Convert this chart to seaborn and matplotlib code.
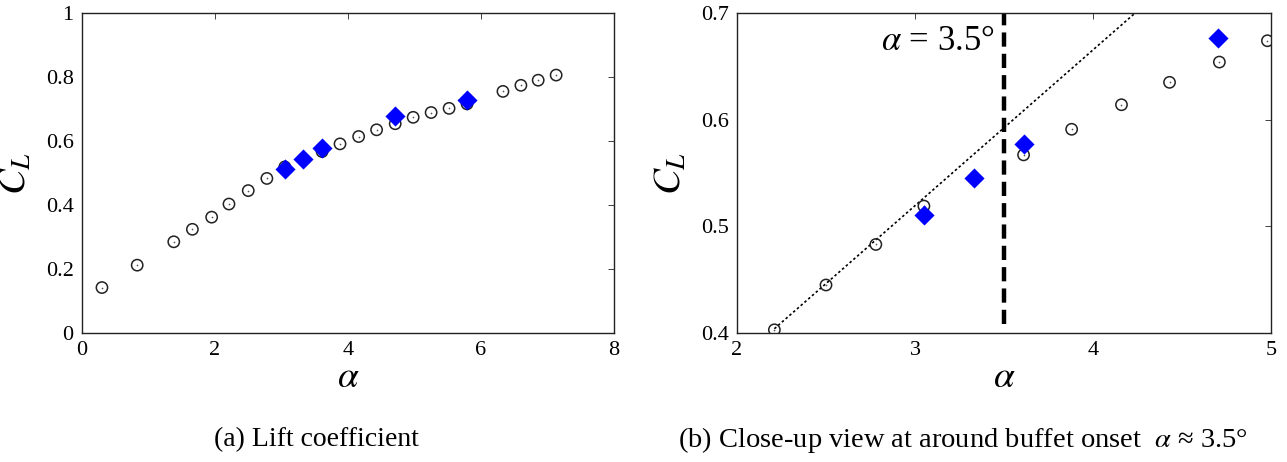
import numpy as np
import pandas as pd
import matplotlib
matplotlib.use("Agg")
import matplotlib.pyplot as plt
import seaborn as sns

# ---- data ----
alpha_exp = [0.30, 0.83, 1.38, 1.66, 1.95, 2.21, 2.50, 2.78, 3.05, 3.61, 3.88, 4.16,
             4.43, 4.71, 4.98, 5.25, 5.52, 5.79, 6.33, 6.60, 6.86, 7.13]
cl_exp = [0.142, 0.212, 0.285, 0.324, 0.362, 0.403, 0.445, 0.483, 0.519, 0.567, 0.591, 0.614,
          0.635, 0.654, 0.674, 0.689, 0.702, 0.716, 0.755, 0.774, 0.790, 0.806]
alpha_sim = [3.05, 3.33, 3.61, 4.70, 5.79]
cl_sim = [0.511, 0.545, 0.577, 0.677, 0.729]
fit_alpha = [2.21, 4.23]
fit_cl = [0.404, 0.699]
onset_alpha = 3.5
onset_span = [0.408, 0.70]

left_xticks = [0, 2, 4, 6, 8]
left_yticks = [0, 0.2, 0.4, 0.6, 0.8, 1]
left_yticklabels = ["0", "0.2", "0.4", "0.6", "0.8", "1"]
right_xticks = [2, 3, 4, 5]
right_yticks = [0.4, 0.5, 0.6, 0.7]
right_yticklabels = ["0.4", "0.5", "0.6", "0.7"]

caption_a = "(a) Lift coefficient"
caption_b = r"(b) Close-up view at around buffet onset  $\alpha$ ≈ 3.5°"
annot = r"$\alpha$ = 3.5°"

exp_df = pd.DataFrame({"alpha": alpha_exp, "CL": cl_exp})
sim_df = pd.DataFrame({"alpha": alpha_sim, "CL": cl_sim})

sns.set_theme(style="white")
plt.rcParams["font.family"] = ["Liberation Serif", "DejaVu Serif"]
plt.rcParams["mathtext.fontset"] = "stix"
plt.rcParams["text.color"] = "black"
plt.rcParams["axes.labelcolor"] = "black"

W, H = 1287, 462
fig = plt.figure(figsize=(W / 100, H / 100), dpi=100)
ax1 = fig.add_axes([82 / W, 1 - 333 / H, 532 / W, 320 / H])
ax2 = fig.add_axes([737 / W, 1 - 333 / H, 534 / W, 320 / H])


def draw(ax, df_e, df_s):
    sns.scatterplot(data=df_e, x="alpha", y="CL", ax=ax, marker="o", s=66,
                    facecolor="none", edgecolor="#222222", linewidth=1.1, legend=False, zorder=3)
    sns.scatterplot(data=df_e, x="alpha", y="CL", ax=ax, marker="o", s=1.5,
                    color="#555555", linewidth=0, legend=False, zorder=3)
    sns.scatterplot(data=df_s, x="alpha", y="CL", ax=ax, marker="D", s=105,
                    color="#0000ff", linewidth=0, legend=False, zorder=4)


draw(ax1, exp_df, sim_df)
ax1.set_xlim(0, 8)
ax1.set_ylim(0, 1)
ax1.set_xticks(left_xticks)
ax1.set_xticklabels([str(t) for t in left_xticks])
ax1.set_yticks(left_yticks)
ax1.set_yticklabels(left_yticklabels)

sub = exp_df[(exp_df.alpha >= 2) & (exp_df.alpha <= 5.05)]
subs = sim_df[(sim_df.alpha >= 2) & (sim_df.alpha <= 5.05)]
sns.lineplot(x=fit_alpha, y=fit_cl, ax=ax2, color="black", linestyle=(0, (1.5, 1.5)),
             linewidth=1.2, zorder=2)
ax2.plot([onset_alpha, onset_alpha], onset_span, color="black", linewidth=3.2,
         linestyle=(0, (3.2, 1.6)), zorder=2, solid_capstyle="butt")
draw(ax2, sub, subs)
ax2.set_xlim(2, 5)
ax2.set_ylim(0.4, 0.7)
ax2.set_xticks(right_xticks)
ax2.set_xticklabels([str(t) for t in right_xticks])
ax2.set_yticks(right_yticks)
ax2.set_yticklabels(right_yticklabels)
ax2.text(3.45, 0.673, annot, ha="right", va="center", fontsize=25, color="black")

for ax in (ax1, ax2):
    ax.set_xlabel(r"$\alpha$", fontsize=27, labelpad=0, color="black")
    ax.set_ylabel(r"$C_L$", fontsize=28, labelpad=8, color="black")
    ax.tick_params(direction="in", top=True, right=True, length=4, width=0.6,
                   labelsize=16, pad=6, colors="#222222", labelcolor="black")
    for sp in ax.spines.values():
        sp.set_color("#222222")
        sp.set_linewidth(1.0)

fig.text(316 / W, 1 - 440 / H, caption_a, ha="center", va="center", fontsize=20, color="black")
fig.text(963 / W, 1 - 440 / H, caption_b, ha="center", va="center", fontsize=20.5, color="black")

fig.savefig("out.png", dpi=100, facecolor="white")
